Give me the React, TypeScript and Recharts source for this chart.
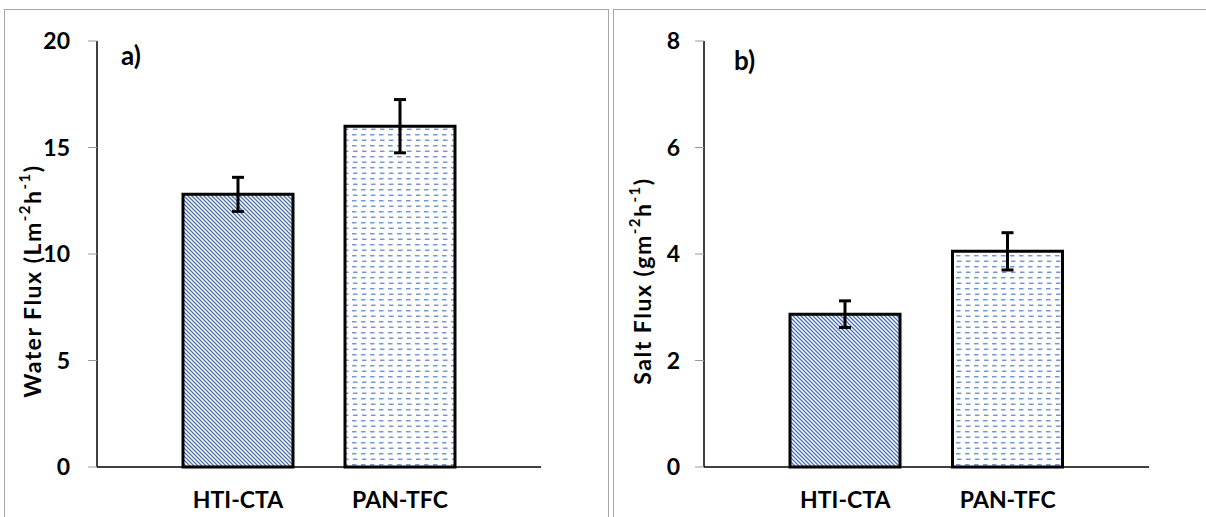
import React from 'react';
import { BarChart, Bar, XAxis, YAxis, Cell, ErrorBar, Label } from 'recharts';

// membranes on the x axis
const membranes = ['HTI-CTA', 'PAN-TFC'];

// a) water flux, Lm-2h-1
const waterFlux = [12.8, 16.0];
const waterErr = [0.8, 1.25];
const waterTicks = [0, 5, 10, 15, 20];

// b) salt flux, gm-2h-1
const saltFlux = [2.87, 4.05];
const saltErr = [0.25, 0.35];
const saltTicks = [0, 2, 4, 6, 8];

const fills = ['url(#hatch)', 'url(#dashes)'];
const font = 'Lato, Calibri, "Open Sans", sans-serif';

const waterData = membranes.map((m, i) => ({ name: m, value: waterFlux[i], err: waterErr[i] }));
const saltData = membranes.map((m, i) => ({ name: m, value: saltFlux[i], err: saltErr[i] }));

function Patterns() {
  return (
    <defs>
      <pattern id="hatch" width="4" height="4" patternUnits="userSpaceOnUse">
        <rect width="4" height="4" fill="#ffffff" />
        <path d="M0,0 L4,4 M-1,3 L1,5 M3,-1 L5,1" stroke="#4a70b4" strokeWidth="1.3" />
      </pattern>
      <pattern id="dashes" width="9" height="11" patternUnits="userSpaceOnUse">
        <rect width="9" height="11" fill="#ffffff" />
        <line x1="1" y1="2.75" x2="5.5" y2="2.75" stroke="#6c91cc" strokeWidth="1.4" />
        <line x1="2" y1="8.25" x2="6.5" y2="8.25" stroke="#6c91cc" strokeWidth="1.4" />
      </pattern>
    </defs>
  );
}

// rotated axis title with superscripts, e.g. Lm-2h-1
function axisTitle(cx: number, cy: number, main: string, unitA: string, unitB: string) {
  return () => (
    <text
      x={cx}
      y={cy}
      transform={`rotate(-90, ${cx}, ${cy})`}
      textAnchor="middle"
      dominantBaseline="central"
      fontFamily={font}
      fontWeight="bold"
      fontSize={23}
      letterSpacing={1.5}
      fill="#000"
    >
      <tspan>{main} ({unitA}</tspan>
      <tspan dy={-8} fontSize={15}>-2</tspan>
      <tspan dy={8}>{unitB}</tspan>
      <tspan dy={-8} fontSize={15}>-1</tspan>
      <tspan dy={8}>)</tspan>
    </text>
  );
}

const tickStyle = { fontFamily: font, fontWeight: 'bold', fontSize: 23, fill: '#000' } as any;

function Panel(props: {
  data: any[];
  ticks: number[];
  max: number;
  width: number;
  margin: any;
  yWidth: number;
  tickMargin: number;
  titleX: number;
  main: string;
  unitA: string;
  unitB: string;
  tag: string;
  tagX: number;
  tagY: number;
}) {
  return (
    <BarChart width={props.width} height={517} data={props.data} margin={props.margin}>
      <Patterns />
      <XAxis
        dataKey="name"
        tickLine={false}
        axisLine={{ stroke: '#000', strokeWidth: 1.5 }}
        tick={tickStyle}
        tickMargin={19}
        height={50}
        padding={{ left: 60, right: 60 }}
      />
      <XAxis xAxisId="top" orientation="top" dataKey="name" height={0} tick={false} tickLine={false} axisLine={{ stroke: '#000', strokeWidth: 1.5 }} />
      <YAxis
        domain={[0, props.max]}
        ticks={props.ticks}
        tick={tickStyle}
        tickSize={9}
        tickMargin={props.tickMargin}
        tickLine={{ stroke: '#999' }}
        axisLine={{ stroke: '#000', strokeWidth: 1.5 }}
        width={props.yWidth}
      >
        <Label content={axisTitle(props.titleX, 281, props.main, props.unitA, props.unitB)} />
      </YAxis>
      <YAxis yAxisId="r" orientation="right" width={0} tick={false} tickLine={false} axisLine={{ stroke: '#000', strokeWidth: 1.5 }} />
      <Bar dataKey="value" barSize={110} stroke="#000" strokeWidth={3} isAnimationActive={false}>
        {props.data.map((d, i) => (
          <Cell key={d.name} fill={fills[i]} />
        ))}
        <ErrorBar dataKey="err" width={6} stroke="#000" strokeWidth={3} />
      </Bar>
      <text x={props.tagX} y={props.tagY} fontFamily={font} fontWeight="bold" fontSize={26} fill="#000">
        {props.tag}
      </text>
    </BarChart>
  );
}

export default function App() {
  return (
    <div style={{ position: 'absolute', left: 0, top: 0, width: 1206, height: 517, background: '#fff', overflow: 'hidden' }}>
      <div style={{ position: 'absolute', left: 4, top: 9, width: 605, height: 520, border: '1px solid #a6a6a6', boxSizing: 'border-box' }} />
      <div style={{ position: 'absolute', left: 613, top: 9, width: 600, height: 520, border: '1px solid #a6a6a6', boxSizing: 'border-box' }} />
      <div style={{ position: 'absolute', left: 0, top: 0 }}>
        <Panel
          data={waterData}
          ticks={waterTicks}
          max={20}
          width={609}
          margin={{ top: 41, right: 68, bottom: 0, left: 17 }}
          yWidth={80}
          tickMargin={18}
          titleX={32}
          main="Water Flux"
          unitA="Lm"
          unitB="h"
          tag="a)"
          tagX={121}
          tagY={65}
        />
      </div>
      <div style={{ position: 'absolute', left: 613, top: 0 }}>
        <Panel
          data={saltData}
          ticks={saltTicks}
          max={8}
          width={593}
          margin={{ top: 41, right: 57, bottom: 0, left: 11 }}
          yWidth={80}
          tickMargin={15}
          titleX={29}
          main="Salt Flux"
          unitA="gm"
          unitB="h"
          tag="b)"
          tagX={121}
          tagY={70}
        />
      </div>
    </div>
  );
}
